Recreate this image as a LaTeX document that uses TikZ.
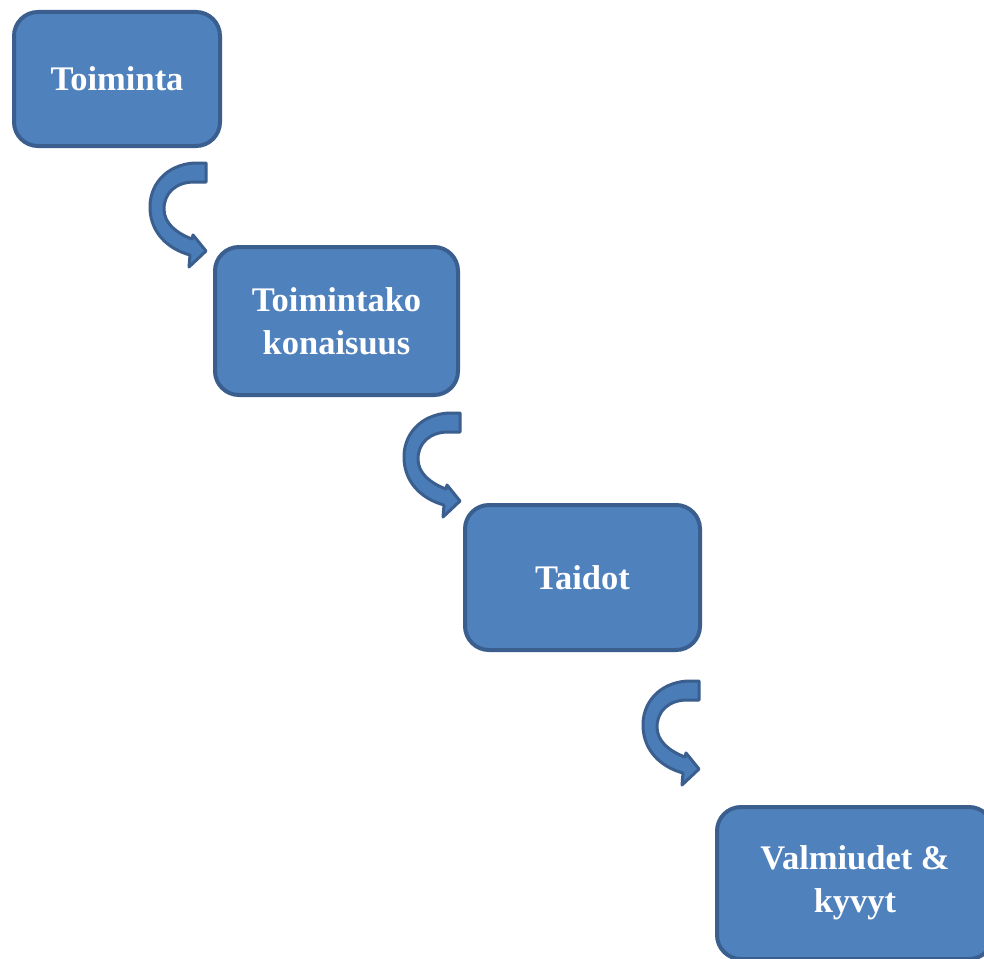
\documentclass[tikz,border=0pt]{standalone}
\usepackage{fontspec}
\setmainfont{Liberation Serif}
\definecolor{boxfill}{HTML}{4F81BD}
\definecolor{boxline}{HTML}{3A5F8F}
\definecolor{arrfill}{HTML}{4A7CB8}
\tikzset{
  stepbox/.style={draw=boxline, fill=boxfill, line width=4pt, rounded corners=24pt,
    text=white, font=\bfseries\fontsize{34.5}{43}\selectfont, align=center, inner sep=0pt},
  carrow/.pic={
    \filldraw[fill=arrfill, draw=boxline, line width=3pt, line join=round]
      (0,0) -- (-12,0) .. controls (-40,2) and (-57,22) .. (-56,46)
      .. controls (-55,70) and (-38,86) .. (-16,92)
      -- (-17,104) -- (0,88) -- (-13,72) -- (-14,76)
      .. controls (-30,70) and (-42,60) .. (-42,46)
      .. controls (-42,30) and (-30,19) .. (-12,19) -- (0,19) -- cycle;
  }
}
\begin{document}
\begin{tikzpicture}[x=1pt,y=-1pt]
\useasboundingbox (0,0) rectangle (984,958);
\clip (0,0) rectangle (984,958);
\fill[white] (0,0) rectangle (984,958);
\node[stepbox, minimum width=206pt, minimum height=134pt] (b1) at (117,79) {Toiminta};
\node[stepbox, minimum width=243pt, minimum height=148pt] (b2) at (336.5,321) {Toimintako\\konaisuus};
\node[stepbox, minimum width=235pt, minimum height=145pt] (b3) at (582.5,577.5) {Taidot};
\node[stepbox, minimum width=276pt, minimum height=152pt] (b4) at (855,883) {Valmiudet \&\\kyvyt};
\pic (a1) at (206,163) {carrow};
\pic (a2) at (460,413) {carrow};
\pic (a3) at (699,681) {carrow};
\end{tikzpicture}
\end{document}
